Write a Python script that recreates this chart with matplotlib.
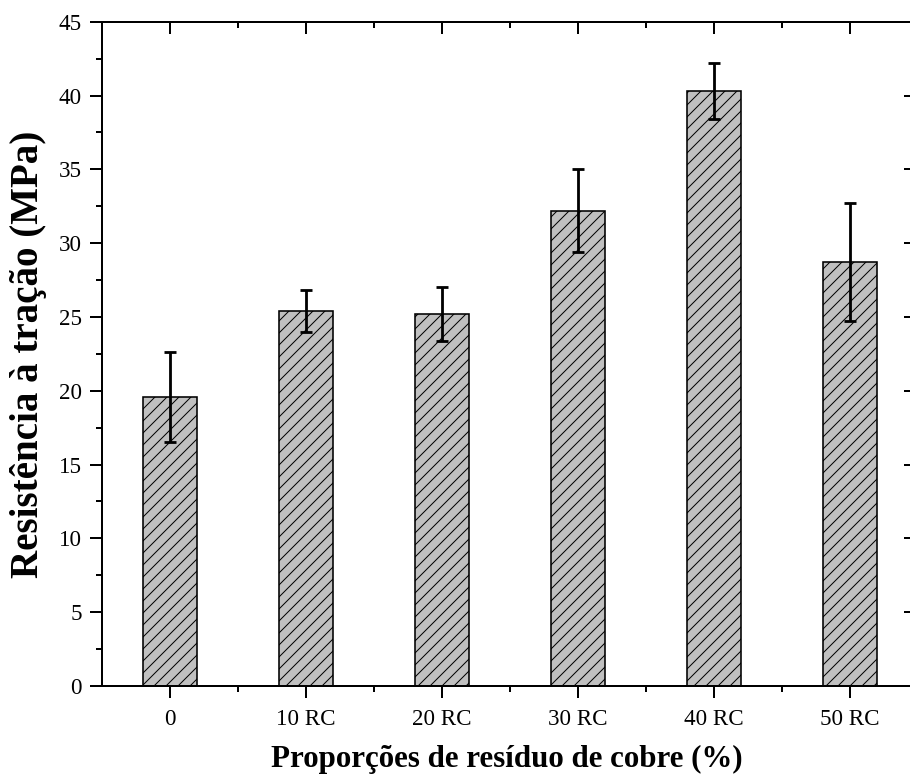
import numpy as np
import matplotlib
matplotlib.use('Agg')
import matplotlib.pyplot as plt
from matplotlib.ticker import MultipleLocator, FixedLocator

# data
categories = ['0', '10 RC', '20 RC', '30 RC', '40 RC', '50 RC']
resistencia = [19.55, 25.4, 25.2, 32.2, 40.3, 28.75]
erro = [3.05, 1.45, 1.85, 2.8, 1.9, 4.0]

DPI = 72
plt.rcParams['font.family'] = ['Liberation Serif', 'DejaVu Serif']
plt.rcParams['hatch.linewidth'] = 1.0
plt.rcParams['hatch.color'] = 'black'

fig = plt.figure(figsize=(910 / DPI, 780 / DPI), dpi=DPI)
ax = fig.add_axes([101.7 / 910, 94 / 780, (911 - 101.7) / 910, (686 - 21.7) / 780])

x = np.arange(len(categories))
ax.bar(x, resistencia, width=0.4, color='#c0c0c0', edgecolor='black',
       linewidth=1.6, hatch='//', zorder=2)
ax.errorbar(x, resistencia, yerr=erro, fmt='none', ecolor='black',
            elinewidth=2.8, capsize=6, capthick=2.8, zorder=3)

ax.set_xlim(-0.5, 5.45)
ax.set_ylim(0, 45)

ax.set_xticks(x)
ax.set_xticklabels(categories)
ax.xaxis.set_minor_locator(FixedLocator(x[:-1] + 0.5))
ax.yaxis.set_major_locator(MultipleLocator(5))
ax.yaxis.set_minor_locator(MultipleLocator(2.5))

for s in ax.spines.values():
    s.set_linewidth(2)

ax.tick_params(axis='both', which='major', direction='out', length=12, width=2,
               labelsize=23, pad=8)
ax.tick_params(axis='x', which='major', pad=11)
ax.tick_params(axis='both', which='minor', direction='out', length=6, width=2)
ax.tick_params(axis='x', which='both', top=True)
ax.tick_params(axis='y', which='both', right=True)

# top / right ticks point inward like in Origin
for t in ax.xaxis.get_major_ticks():
    t.tick2line.set_marker(3)
for t in ax.xaxis.get_minor_ticks():
    t.tick2line.set_marker(3)
for t in ax.yaxis.get_major_ticks():
    t.tick2line.set_marker(0)
    t.tick2line.set_markersize(7)
for t in ax.yaxis.get_minor_ticks():
    t.tick2line.set_visible(False)

ax.set_xlabel('Proporções de resíduo de cobre (%)', fontsize=31, fontweight='bold', labelpad=15)
ax.set_ylabel('Resistência à tração (MPa)', fontsize=39, fontweight='bold', labelpad=12)

fig.savefig('out.png', dpi=DPI)
